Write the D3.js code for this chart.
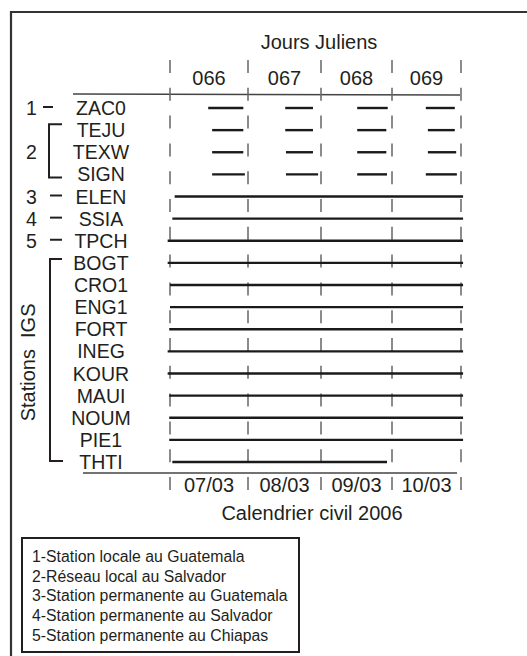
<!DOCTYPE html>
<html>
<head>
<meta charset="utf-8">
<script src="https://cdn.jsdelivr.net/npm/d3@7"></script>
<style>
  html, body { margin: 0; padding: 0; background: #fff; }
  svg { display: block; font-family: "Liberation Sans", Arial, sans-serif; }
  text { fill: #231f20; }
</style>
</head>
<body>
<svg id="chart" width="527" height="656"></svg>
<script>
// ---------- data ----------
const stations = ["ZAC0","TEJU","TEXW","SIGN","ELEN","SSIA","TPCH","BOGT","CRO1","ENG1","FORT","INEG","KOUR","MAUI","NOUM","PIE1","THTI"];
const julianDays = ["066","067","068","069"];
const civilDates = ["07/03","08/03","09/03","10/03"];
const xTitleTop = "Jours Juliens";
const xTitleBottom = "Calendrier civil 2006";
const igsTitle = "Stations  IGS";

// observation sessions, in days counted from day 066 at 0h
const sessZAC0 = [[0.49,0.94],[1.51,1.89],[2.51,2.94],[3.49,3.91]];
const sessTEJU = [[0.54,0.94],[1.51,1.89],[2.51,2.92],[3.52,3.91]];
const sessTEXW = [[0.54,0.94],[1.52,1.89],[2.51,2.92],[3.52,3.93]];
const sessSIGN = [[0.54,0.96],[1.52,1.96],[2.51,2.93],[3.49,3.94]];
const sessELEN = [[0.06,4.03]];
const sessSSIA = [[0.03,4.03]];
const sessTPCH = [[-0.03,4.03]];
const sessBOGT = [[-0.03,4.03]];
const sessCRO1 = [[0.0,4.03]];
const sessENG1 = [[0.0,4.03]];
const sessFORT = [[-0.01,4.03]];
const sessINEG = [[-0.03,4.03]];
const sessKOUR = [[-0.03,4.03]];
const sessMAUI = [[-0.01,4.03]];
const sessNOUM = [[-0.01,4.03]];
const sessPIE1 = [[-0.01,4.03]];
const sessTHTI = [[0.03,2.93]];

const groupNumbers = ["1","2","3","4","5"];
const groupMembers = [["ZAC0"],["TEJU","TEXW","SIGN"],["ELEN"],["SSIA"],["TPCH"]];
const igsMembers = ["BOGT","CRO1","ENG1","FORT","INEG","KOUR","MAUI","NOUM","PIE1","THTI"];

const legendLines = [
  "1-Station locale au Guatemala",
  "2-Réseau local au Salvador",
  "3-Station permanente au Guatemala",
  "4-Station permanente au Salvador",
  "5-Station permanente au Chiapas"
];

const sessions = {
  ZAC0: sessZAC0, TEJU: sessTEJU, TEXW: sessTEXW, SIGN: sessSIGN, ELEN: sessELEN,
  SSIA: sessSSIA, TPCH: sessTPCH, BOGT: sessBOGT, CRO1: sessCRO1, ENG1: sessENG1,
  FORT: sessFORT, INEG: sessINEG, KOUR: sessKOUR, MAUI: sessMAUI, NOUM: sessNOUM,
  PIE1: sessPIE1, THTI: sessTHTI
};

// ---------- layout ----------
const svg = d3.select("#chart");
const ink = "#231f20";

const x = d3.scaleLinear().domain([0,1,2,3,4]).range([170,248,321,392,461]);
const y = d3.scalePoint().domain(stations).range([108,462]);

// outer frame (only top and left visible)
svg.append("path")
  .attr("d", "M11,656 L11,12 L527,12")
  .attr("fill", "none").attr("stroke", "#333").attr("stroke-width", 2.2);

// top titles
svg.append("text").attr("x", 319).attr("y", 49).attr("text-anchor", "middle")
  .attr("font-size", 20).text(xTitleTop);

svg.selectAll(".jd").data(julianDays).join("text")
  .attr("class","jd")
  .attr("x", (d,i) => x(i + 0.5)).attr("y", 85)
  .attr("text-anchor","middle").attr("font-size", 20).text(d => d);

// axis lines
svg.append("line").attr("x1", 73).attr("x2", 460).attr("y1", 94).attr("y2", 95)
  .attr("stroke", "#444").attr("stroke-width", 1.4);
svg.append("line").attr("x1", 83).attr("x2", 457).attr("y1", 473).attr("y2", 473)
  .attr("stroke", "#444").attr("stroke-width", 1.4);

// dashed day separators
svg.selectAll(".sep").data(d3.range(5)).join("line")
  .attr("class","sep")
  .attr("x1", d => x(d)).attr("x2", d => x(d))
  .attr("y1", 60).attr("y2", 490)
  .attr("stroke", "#666").attr("stroke-width", 1.5)
  .attr("stroke-dasharray", "13,14.8");

// session segments
const segs = stations.flatMap(s => sessions[s].map(([a,b]) => ({s, a, b})));
svg.selectAll(".seg").data(segs).join("line")
  .attr("class","seg")
  .attr("x1", d => x(d.a)).attr("x2", d => x(d.b))
  .attr("y1", d => y(d.s)).attr("y2", d => y(d.s))
  .attr("stroke", "#1a1a1a").attr("stroke-width", 2.4);

// station labels
svg.selectAll(".st").data(stations).join("text")
  .attr("class","st")
  .attr("x", 101).attr("y", d => y(d) + 7)
  .attr("text-anchor","middle").attr("font-size", 19.5).text(d => d);

// group numbers and markers
groupMembers.forEach((mem, i) => {
  const y0 = y(mem[0]), y1 = y(mem[mem.length - 1]);
  const ym = (y0 + y1) / 2;
  svg.append("text").attr("x", 31.5).attr("y", ym + 7)
    .attr("text-anchor","middle").attr("font-size", 19.5).text(groupNumbers[i]);
  if (mem.length === 1) {
    svg.append("line").attr("x1", i === 0 ? 43 : 50).attr("x2", i === 0 ? 53 : 62)
      .attr("y1", ym - 1).attr("y2", ym - 1)
      .attr("stroke", ink).attr("stroke-width", 2);
  } else {
    svg.append("path")
      .attr("d", `M62,${y0-6} L49,${y0-6} L49,${y1+3} L62,${y1+3}`)
      .attr("fill","none").attr("stroke", ink).attr("stroke-width", 2);
  }
});

// IGS bracket
{
  const y0 = y(igsMembers[0]), y1 = y(igsMembers[igsMembers.length - 1]);
  svg.append("path")
    .attr("d", `M62,${y0-4} L50,${y0-4} L50,${y1-1} L63,${y1-1}`)
    .attr("fill","none").attr("stroke", ink).attr("stroke-width", 2);
  svg.append("text")
    .attr("transform", `translate(35,${(y0 + y1) / 2}) rotate(-90)`)
    .attr("text-anchor","middle").attr("font-size", 20)
    .style("white-space","pre").text(igsTitle);
}

// bottom dates
svg.selectAll(".cd").data(civilDates).join("text")
  .attr("class","cd")
  .attr("x", (d,i) => x(i + 0.5)).attr("y", 492)
  .attr("text-anchor","middle").attr("font-size", 20).text(d => d);

svg.append("text").attr("x", 312).attr("y", 520).attr("text-anchor", "middle")
  .attr("font-size", 20).text(xTitleBottom);

// legend
svg.append("rect").attr("x", 22).attr("y", 538).attr("width", 277).attr("height", 114)
  .attr("fill","none").attr("stroke", ink).attr("stroke-width", 2);
svg.selectAll(".lg").data(legendLines).join("text")
  .attr("class","lg")
  .attr("x", 32).attr("y", (d,i) => 562 + i * 19.7)
  .attr("font-size", 15.8).text(d => d);
</script>
</body>
</html>
